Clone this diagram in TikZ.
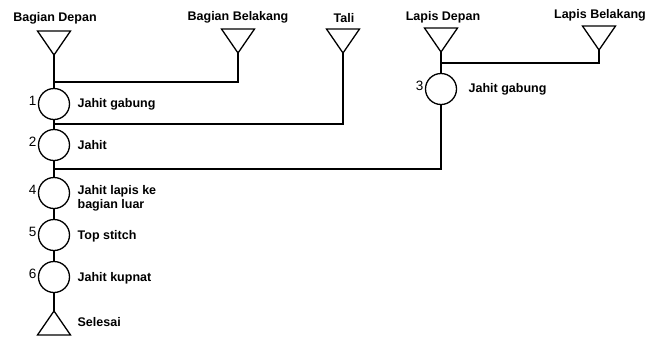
\documentclass[tikz,border=0pt]{standalone}
\usepackage{fontspec}
\setmainfont{Liberation Sans}
\begin{document}
\begin{tikzpicture}[x=1pt,y=-1pt,
  line width=1.3pt, line join=miter,
  op/.style={circle,draw,minimum size=31pt,inner sep=0pt},
  lbl/.style={font=\fontsize{12.5}{14}\selectfont\bfseries,anchor=west,inner sep=0pt,align=left},
  toplbl/.style={font=\fontsize{12.5}{14}\selectfont\bfseries,inner sep=0pt},
  num/.style={font=\fontsize{13.5}{14}\selectfont,anchor=east,inner sep=0pt},
  tri/.style={draw,line join=miter}]
\useasboundingbox (0,0) rectangle (650,338);
% top part labels
\node[toplbl] (tBD) at (55,18) {Bagian Depan};
\node[toplbl] (tBB) at (238,17) {Bagian Belakang};
\node[toplbl] (tT) at (344,18) {Tali};
\node[toplbl] (tLD) at (443,17) {Lapis Depan};
\node[toplbl] (tLB) at (600,15) {Lapis Belakang};
% triangle apexes (pointing down)
\coordinate (aBD) at (54,55);
\coordinate (aBB) at (238,53);
\coordinate (aT) at (343,53);
\coordinate (aLD) at (441,52);
\coordinate (aLB) at (599,50);
\foreach \a in {aBD,aBB,aT,aLD,aLB}
  \draw[tri] (\a) -- ++(-16.5,-24) -- ++(33,0) -- cycle;
% operations
\node[op] (c1) at (54,104) {};
\node[op] (c2) at (54,145) {};
\node[op] (c3) at (441,89) {};
\node[op] (c4) at (54,193) {};
\node[op] (c5) at (54,235) {};
\node[op] (c6) at (54,277) {};
% numbers
\node[num] (n1) at (37,101) {1};
\node[num] (n2) at (37,142) {2};
\node[num] (n3) at (424,86) {3};
\node[num] (n4) at (37,190) {4};
\node[num] (n5) at (37,232) {5};
\node[num] (n6) at (37,274) {6};
% operation labels
\node[lbl] (l1) at (77,104) {Jahit gabung};
\node[lbl] (l2) at (77,145) {Jahit};
\node[lbl] (l3) at (468,89) {Jahit gabung};
\node[lbl] (l4) at (77,198) {Jahit lapis ke\\bagian luar};
\node[lbl] (l5) at (77,236) {Top stitch};
\node[lbl] (l6) at (77,278) {Jahit kupnat};
% finish triangle (pointing up)
\coordinate (aS) at (54,311);
\draw[tri] (aS) -- ++(-16.5,24) -- ++(33,0) -- cycle;
\node[lbl] (lS) at (77,322) {Selesai};
% junctions
\coordinate (m1) at (54,82);
\coordinate (m2) at (54,124);
\coordinate (m3) at (54,169);
\coordinate (m4) at (441,63);
% connectors
\draw (aBD) -- (c1.north);
\draw (aBB) |- (m1);
\draw (c1.south) -- (c2.north);
\draw (aT) |- (m2);
\draw (aLD) -- (c3.north);
\draw (aLB) |- (m4);
\draw (c3.south) |- (m3);
\draw (c2.south) -- (c4.north);
\draw (c4.south) -- (c5.north);
\draw (c5.south) -- (c6.north);
\draw (c6.south) -- (aS);
\end{tikzpicture}
\end{document}
